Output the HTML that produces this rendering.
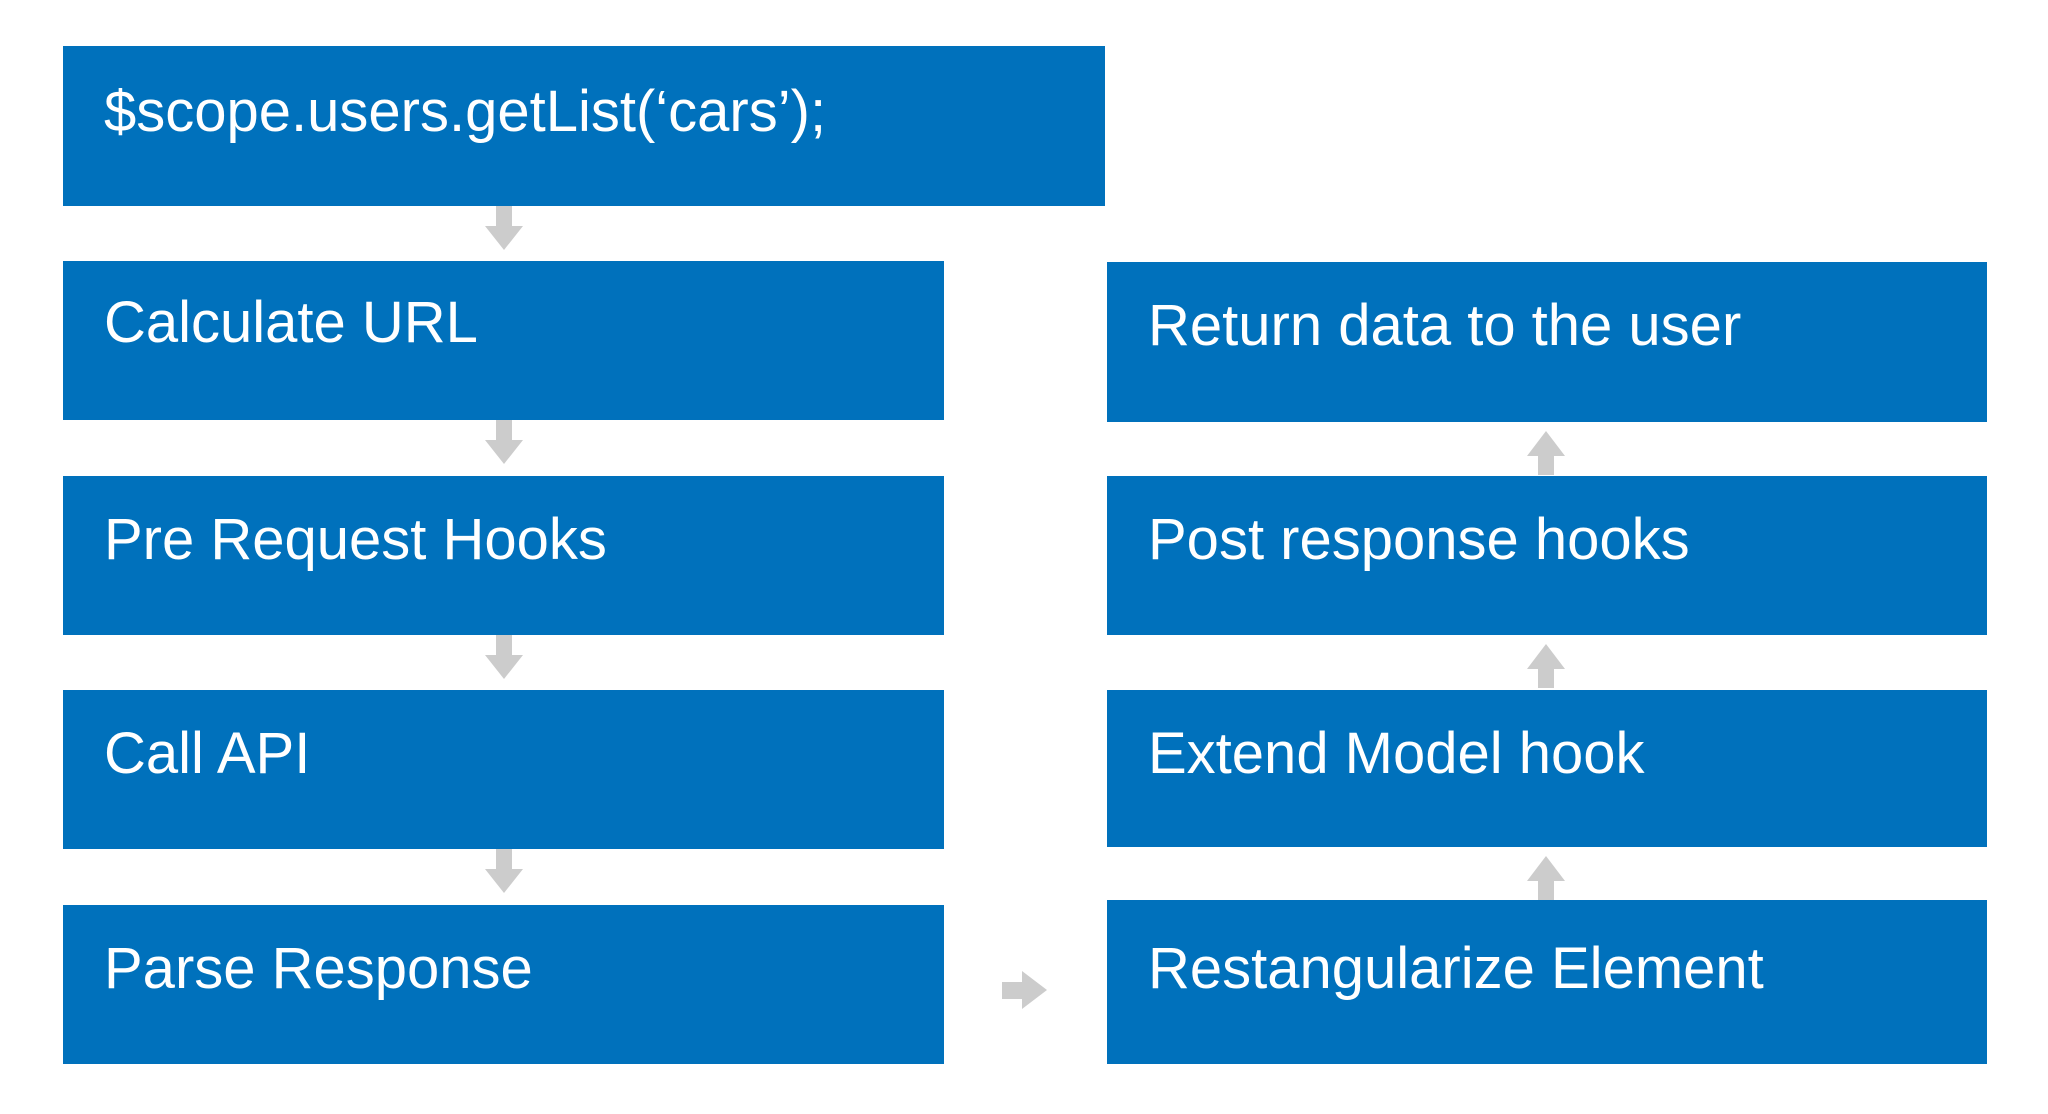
<!DOCTYPE html>
<html><head><style>
body{margin:0;width:2048px;height:1114px;background:#fff;position:relative;overflow:hidden;font-family:"Liberation Sans",sans-serif}
.b{position:absolute;background:#0071bc}
.t{position:absolute;left:41px;top:64px;color:#fff;font-size:58px;line-height:0;white-space:nowrap;letter-spacing:0px}
svg{position:absolute;left:0;top:0}
</style></head><body>
<div class="b" style="left:63px;top:46px;width:1042px;height:160px"><div class="t" style="top:66px">$scope.users.getList(‘cars’);</div></div>
<div class="b" style="left:63px;top:261px;width:881px;height:159px"><div class="t" style="top:62px">Calculate URL</div></div>
<div class="b" style="left:63px;top:476px;width:881px;height:159px"><div class="t">Pre Request Hooks</div></div>
<div class="b" style="left:63px;top:690px;width:881px;height:159px"><div class="t">Call API</div></div>
<div class="b" style="left:63px;top:905px;width:881px;height:159px"><div class="t">Parse Response</div></div>
<div class="b" style="left:1107px;top:262px;width:880px;height:160px"><div class="t">Return data to the user</div></div>
<div class="b" style="left:1107px;top:476px;width:880px;height:159px"><div class="t">Post response hooks</div></div>
<div class="b" style="left:1107px;top:690px;width:880px;height:157px"><div class="t">Extend Model hook</div></div>
<div class="b" style="left:1107px;top:900px;width:880px;height:164px"><div class="t" style="top:69px">Restangularize Element</div></div>
<svg width="2048" height="1114" fill="#cccccc">
<g id="d"><polygon points="496,206 512,206 512,226 523,226 504,250 485,226 496,226"/></g>
<use href="#d" transform="translate(0,214)"/>
<use href="#d" transform="translate(0,429)"/>
<use href="#d" transform="translate(0,643)"/>
<g id="u"><polygon points="1538,900 1554,900 1554,881 1565,881 1546,856 1527,881 1538,881"/></g>
<use href="#u" transform="translate(0,-212)"/>
<use href="#u" transform="translate(0,-425)"/>
<polygon points="1002,982 1022,982 1022,971 1047,990 1022,1009 1022,999 1002,999"/>
</svg>
</body></html>
